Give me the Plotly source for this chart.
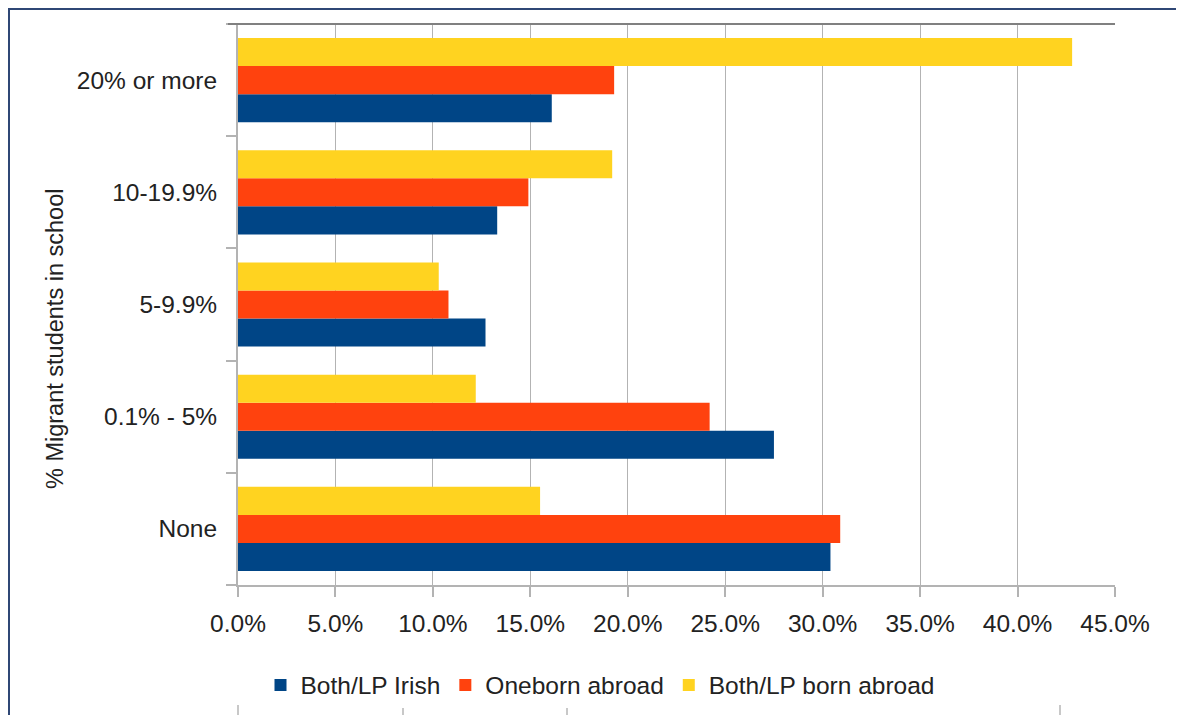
import plotly.graph_objects as go

categories = ["None", "0.1% - 5%", "5-9.9%", "10-19.9%", "20% or more"]
both_irish = [30.4, 27.5, 12.7, 13.3, 16.1]
one_abroad = [30.9, 24.2, 10.8, 14.9, 19.3]
both_abroad = [15.5, 12.2, 10.3, 19.2, 42.8]
series_names = ["Both/LP Irish", "Oneborn abroad", "Both/LP born abroad"]
colors = ["#004586", "#ff420e", "#ffd320"]

# page has an 8px body margin, so everything is laid out 8px up/left
OFF = 8
W, H = 1176, 707
L, T = 238 - OFF, 24 - OFF
R = W - (1115 - OFF)
B = H - (585 - OFF)
pw, ph = W - L - R, H - T - B

fig = go.Figure()
for name, vals, c in zip(series_names, [both_irish, one_abroad, both_abroad], colors):
    fig.add_trace(go.Bar(
        y=categories, x=vals, name=name, orientation="h",
        marker=dict(color=c, line=dict(width=0)),
    ))

FAM = "Liberation Sans, Arial, sans-serif"
font = dict(family=FAM, size=24.5, color="#222")

fig.update_xaxes(
    range=[0, 45], dtick=5, tickformat=".1f", ticksuffix="%",
    showgrid=True, gridcolor="#b3b3b3", gridwidth=1,
    showline=True, linecolor="#b3b3b3", linewidth=2,
    ticks="outside", ticklen=10, tickcolor="#b3b3b3", tickwidth=2,
    ticklabelstandoff=6, tickfont=font, zeroline=False, fixedrange=True,
    automargin=False,
)
fig.update_yaxes(
    type="category", categoryorder="array", categoryarray=categories,
    showline=True, linecolor="#b3b3b3", linewidth=2,
    ticks="outside", ticklen=10, tickcolor="#b3b3b3", tickwidth=2,
    tickson="boundaries", showgrid=False,
    ticklabelstandoff=14, tickfont=font, fixedrange=True,
    automargin=False,
)

def px_x(v):
    return (v - OFF - L) / pw

def px_y(v):
    return (H - B - (v - OFF)) / ph

shapes = [
    # dark top line of the plot area
    dict(type="line", xref="paper", yref="paper", x0=px_x(228), x1=1, y0=1, y1=1,
         line=dict(color="#808080", width=2)),
    # outer frame (left and top)
    dict(type="line", xref="paper", yref="paper", x0=px_x(9), x1=px_x(9), y0=px_y(8), y1=px_y(715),
         line=dict(color="#2f4775", width=2)),
    dict(type="line", xref="paper", yref="paper", x0=px_x(8), x1=px_x(1184), y0=px_y(9), y1=px_y(9),
         line=dict(color="#2f4775", width=2)),
]
# stray tick marks of the next chart peeking in at the bottom
for xp in [238, 403, 567, 1060]:
    shapes.append(dict(type="line", xref="paper", yref="paper", x0=px_x(xp), x1=px_x(xp),
                       y0=px_y(705), y1=px_y(715), line=dict(color="#c8c8c8", width=2)))

fig.add_annotation(
    text="% Migrant students in school", textangle=-90, showarrow=False,
    xref="paper", yref="paper", x=px_x(55), y=px_y(339),
    xanchor="center", yanchor="middle",
    font=dict(family=FAM, size=23.5, color="#222"),
)

fig.update_layout(
    width=W, height=H,
    margin=dict(l=L, r=R, t=T, b=B, autoexpand=False),
    barmode="group", bargap=0.25, bargroupgap=0,
    plot_bgcolor="#fff", paper_bgcolor="#fff",
    font=font,
    showlegend=True,
    legend=dict(orientation="h", xanchor="center", x=px_x(600), yanchor="middle", y=px_y(685),
                traceorder="normal", font=dict(family=FAM, size=24.5, color="#222"),
                itemwidth=30, tracegroupgap=0),
    shapes=shapes,
)

fig.write_html("out.html")
